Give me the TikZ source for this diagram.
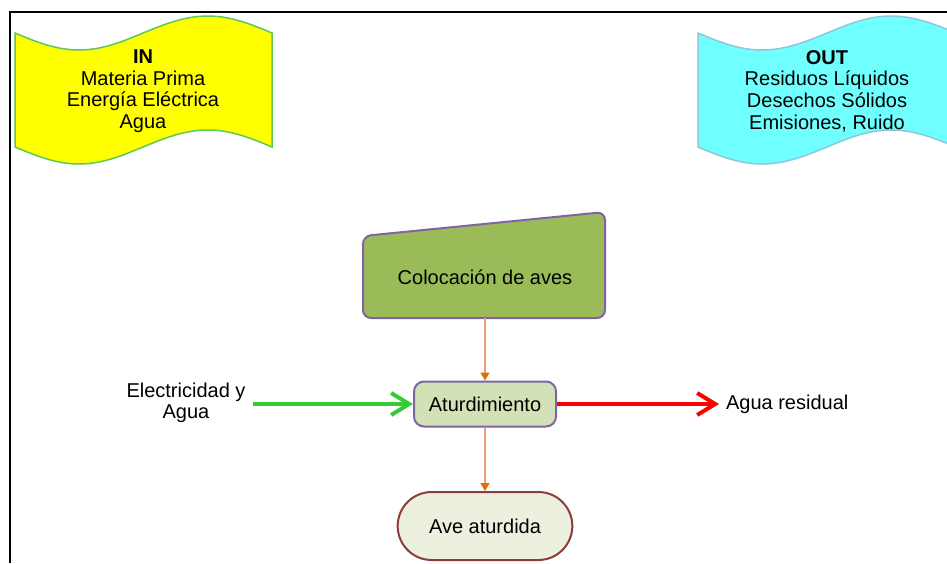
\documentclass[tikz,border=0pt]{standalone}
\usepackage{fontspec}
\setmainfont{Liberation Sans}
\usetikzlibrary{arrows.meta, shapes.misc}
\definecolor{inyellow}{HTML}{FFFF00}
\definecolor{inline}{HTML}{5CC85C}
\definecolor{outcyan}{HTML}{6FFFFF}
\definecolor{outline}{HTML}{8CC8DC}
\definecolor{colocfill}{HTML}{9BBB59}
\definecolor{procline}{HTML}{8064A2}
\definecolor{aturfill}{HTML}{D3E1B6}
\definecolor{avefill}{HTML}{EBF1DE}
\definecolor{aveline}{HTML}{8E3B3B}
\definecolor{flowline}{HTML}{F0A07A}
\definecolor{flowtip}{HTML}{E36C0A}
\definecolor{ingreen}{HTML}{33CC33}

\begin{document}
\begin{tikzpicture}[x=0.5pt,y=-0.5pt,font=\fontsize{10}{10.8}\selectfont,
    banner/.style={line width=0.75pt},
    proc/.style={draw=procline,line width=1pt,fill=aturfill,rounded corners=5pt,
        minimum width=71pt,minimum height=22.5pt},
    term/.style={draw=aveline,line width=1pt,fill=avefill,rounded rectangle,
        minimum width=94pt,minimum height=34pt},
    flow/.style={draw=flowline,line width=0.75pt,-{Triangle[length=4pt,width=4.5pt,color=flowtip]}},
    side/.style={line width=2pt,-{Straight Barb[length=9pt,width=11pt]}}]
    \clip (0,0) rectangle (947,563);
    \draw[line width=1pt] (10,563) -- (10,12) -- (947,12);
    % entradas y salidas
    \draw[banner,draw=inline,fill=inyellow] (15,33) sin (79,50) cos (143,33) sin (208,16) cos (272,33)
        -- (272,147) sin (208,130) cos (143,147) sin (79,164) cos (15,147) -- cycle;
    \node[align=center] (intext) at (143,91) {\textbf{IN}\\Materia Prima\\Energía Eléctrica\\Agua};
    \draw[banner,draw=outline,fill=outcyan] (698,33) sin (762,50) cos (827,33) sin (891,16) cos (956,33)
        -- (956,147) sin (891,130) cos (827,147) sin (762,164) cos (698,147) -- cycle;
    \node[align=center] (outtext) at (827,91) {\textbf{OUT}\\Residuos Líquidos\\Desechos Sólidos\\Emisiones, Ruido};
    % proceso
    \draw[draw=procline,line width=1pt,fill=colocfill,rounded corners=4pt]
        (363,318) -- (363,236) -- (605,212) -- (605,318) -- cycle;
    \node[minimum width=121pt,minimum height=41pt] (coloc) at (485,277) {Colocación de aves};
    \node[proc] (atur) at (485,404) {Aturdimiento};
    \node[term] (ave) at (485,526) {Ave aturdida};
    \node[align=center] (elec) at (186,403) {Electricidad y\\Agua};
    \node[anchor=west] (resid) at (719,404) {Agua residual};
    \draw[flow] (coloc.south) -- (atur.north);
    \draw[flow] (atur.south) -- (ave.north);
    \draw[side,ingreen] (elec.east |- atur.west) -- (atur.west);
    \draw[side,red] (atur.east) -- (resid.west);
\end{tikzpicture}
\end{document}
